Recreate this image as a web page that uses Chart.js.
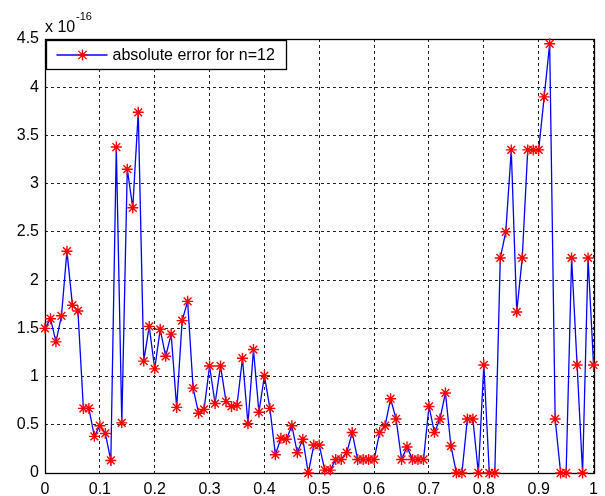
<!DOCTYPE html>
<html>
<head>
<meta charset="utf-8">
<script src="https://cdn.jsdelivr.net/npm/chart.js@4/dist/chart.umd.min.js"></script>
<style>
  body { margin: 0; background: #fff; }
  canvas { display: block; }
</style>
</head>
<body>
<canvas id="myChart" width="605" height="496"></canvas>
<script>
// x positions of the samples
const xValues = [
  0.00, 0.01, 0.02, 0.03, 0.04, 0.05, 0.06, 0.07, 0.08, 0.09,
  0.10, 0.11, 0.12, 0.13, 0.14, 0.15, 0.16, 0.17, 0.18, 0.19,
  0.20, 0.21, 0.22, 0.23, 0.24, 0.25, 0.26, 0.27, 0.28, 0.29,
  0.30, 0.31, 0.32, 0.33, 0.34, 0.35, 0.36, 0.37, 0.38, 0.39,
  0.40, 0.41, 0.42, 0.43, 0.44, 0.45, 0.46, 0.47, 0.48, 0.49,
  0.50, 0.51, 0.52, 0.53, 0.54, 0.55, 0.56, 0.57, 0.58, 0.59,
  0.60, 0.61, 0.62, 0.63, 0.64, 0.65, 0.66, 0.67, 0.68, 0.69,
  0.70, 0.71, 0.72, 0.73, 0.74, 0.75, 0.76, 0.77, 0.78, 0.79,
  0.80, 0.81, 0.82, 0.83, 0.84, 0.85, 0.86, 0.87, 0.88, 0.89,
  0.90, 0.91, 0.92, 0.93, 0.94, 0.95, 0.96, 0.97, 0.98, 0.99,
  1.00
];

// absolute error, in units of 1e-16
const errValues = [
  1.50, 1.60, 1.36, 1.63, 2.30, 1.74, 1.68, 0.67, 0.67, 0.38,
  0.49, 0.41, 0.13, 3.38, 0.52, 3.15, 2.75, 3.74, 1.16, 1.52,
  1.08, 1.49, 1.21, 1.44, 0.68, 1.58, 1.78, 0.88, 0.62, 0.66,
  1.11, 0.72, 1.11, 0.74, 0.69, 0.70, 1.19, 0.51, 1.28, 0.63,
  1.01, 0.67, 0.19, 0.36, 0.35, 0.49, 0.21, 0.35, 0.00, 0.29,
  0.29, 0.03, 0.03, 0.14, 0.14, 0.21, 0.42, 0.14, 0.14, 0.14,
  0.14, 0.42, 0.49, 0.77, 0.56, 0.14, 0.27, 0.14, 0.14, 0.14,
  0.69, 0.42, 0.56, 0.83, 0.28, 0.00, 0.00, 0.56, 0.56, 0.00,
  1.12, 0.00, 0.00, 2.23, 2.50, 3.35, 1.67, 2.23, 3.35, 3.35,
  3.35, 3.90, 4.45, 0.56, 0.00, 0.00, 2.23, 1.12, 0.00, 2.23,
  1.12
];

const seriesLabel = 'absolute error for n=12';
const expLabel = '-16';

const FONT = '"Liberation Sans", Arial, sans-serif';

function fmt(v) {
  return String(Number(v.toFixed(2)));
}

// star marker like matlab '*'
function drawStar(ctx, x, y, r) {
  ctx.beginPath();
  ctx.moveTo(x - r, y); ctx.lineTo(x + r, y);
  ctx.moveTo(x, y - r); ctx.lineTo(x, y + r);
  const d = r * 0.75;
  ctx.moveTo(x - d, y - d); ctx.lineTo(x + d, y + d);
  ctx.moveTo(x - d, y + d); ctx.lineTo(x + d, y - d);
  ctx.stroke();
}

const framePlugin = {
  id: 'frame',
  beforeDatasetsDraw(chart) {
    const a = chart.chartArea;
    const ctx = chart.ctx;
    ctx.save();
    ctx.strokeStyle = '#000';
    ctx.lineWidth = 1.3;
    ctx.strokeRect(Math.round(a.left) + 0.5, Math.round(a.top) + 0.5,
      Math.round(a.right - a.left), Math.round(a.bottom - a.top));
    ctx.restore();
  },
  afterDraw(chart) {
    const a = chart.chartArea;
    const ctx = chart.ctx;
    ctx.save();
    // exponent label
    ctx.fillStyle = '#000';
    ctx.textBaseline = 'alphabetic';
    ctx.font = '16px ' + FONT;
    ctx.fillText('x 10', a.left, 32);
    ctx.font = '11px ' + FONT;
    ctx.fillText(expLabel, a.left + 31, 20);

    // legend box
    const bx = Math.round(a.left) + 1.5, by = Math.round(a.top) + 1.5;
    const bw = 240, bh = 29;
    ctx.fillStyle = '#fff';
    ctx.fillRect(bx, by, bw, bh);
    ctx.strokeStyle = '#000';
    ctx.lineWidth = 1.3;
    ctx.strokeRect(bx, by, bw, bh);
    const ly = by + bh / 2;
    ctx.strokeStyle = '#0000ff';
    ctx.lineWidth = 1.3;
    ctx.beginPath();
    ctx.moveTo(bx + 10, ly);
    ctx.lineTo(bx + 61, ly);
    ctx.stroke();
    ctx.strokeStyle = '#ff0000';
    ctx.lineWidth = 1.4;
    drawStar(ctx, bx + 36, ly, 5.5);
    ctx.fillStyle = '#000';
    ctx.font = '16px ' + FONT;
    ctx.textBaseline = 'middle';
    ctx.fillText(seriesLabel, bx + 66, ly + 1);
    ctx.restore();
  }
};

const data = {
  datasets: [{
    label: seriesLabel,
    data: xValues.map((x, i) => ({ x: x, y: errValues[i] })),
    borderColor: '#0000ff',
    borderWidth: 1.3,
    backgroundColor: '#ff0000',
    pointStyle: 'star',
    pointRadius: 5.5,
    pointBorderColor: '#ff0000',
    pointBorderWidth: 1.4,
    tension: 0,
    clip: false
  }]
};

const config = {
  type: 'line',
  data: data,
  options: {
    responsive: false,
    animation: false,
    layout: { padding: { left: 0, top: 39, right: 9, bottom: 0 } },
    plugins: {
      legend: { display: false },
      tooltip: { enabled: false }
    },
    scales: {
      x: {
        type: 'linear',
        min: 0,
        max: 1,
        ticks: {
          stepSize: 0.1,
          padding: 7,
          color: '#000',
          font: { family: FONT, size: 16 },
          maxRotation: 0,
          callback: fmt
        },
        grid: { color: '#222', lineWidth: 1, drawTicks: false },
        border: { display: false, dash: [3, 3] },
        afterFit(scale) { scale.height = 23; }
      },
      y: {
        min: 0,
        max: 4.5,
        ticks: {
          stepSize: 0.5,
          padding: 6,
          color: '#000',
          font: { family: FONT, size: 16 },
          callback: fmt
        },
        grid: { color: '#222', lineWidth: 1, drawTicks: false },
        border: { display: false, dash: [3, 3] },
        afterFit(scale) { scale.width = 45; }
      }
    }
  },
  plugins: [framePlugin]
};

const myChart = new Chart(document.getElementById('myChart'), config);
</script>
</body>
</html>
